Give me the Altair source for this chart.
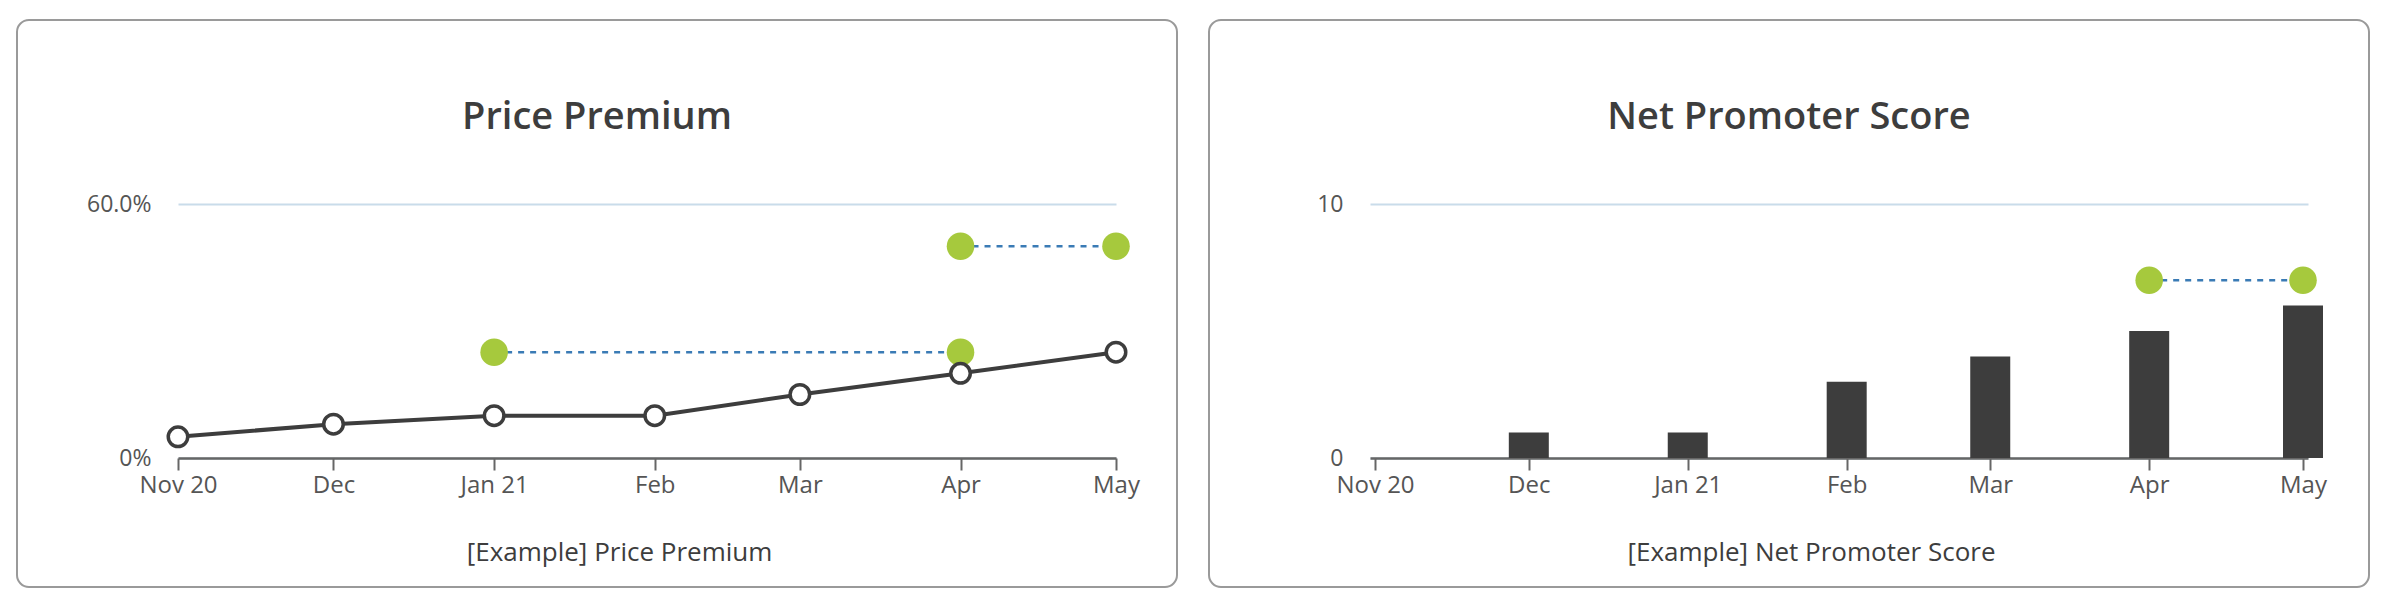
import altair as alt
import pandas as pd

# ---- data ----
months = ["2020-11-01", "2020-12-01", "2021-01-01", "2021-02-01",
          "2021-03-01", "2021-04-01", "2021-05-01"]
price_premium = [0.05, 0.08, 0.10, 0.10, 0.15, 0.20, 0.25]
nps = [0, 1, 1, 3, 4, 5, 6]

pp_target_dates = ["2021-01-01", "2021-04-01", "2021-04-01", "2021-05-01"]
pp_target_vals = [0.25, 0.25, 0.50, 0.50]
pp_target_grp = ["a", "a", "b", "b"]

nps_target_dates = ["2021-04-01", "2021-05-01"]
nps_target_vals = [7, 7]
nps_target_grp = ["a", "a"]

titles = ["Price Premium", "Net Promoter Score"]
captions = ["[Example] Price Premium", "[Example] Net Promoter Score"]

tick_ms = [int(v) for v in (pd.to_datetime(months).astype("int64") // 10**6)]

FONT = "Open Sans"
W, H = 938, 254
DARK = "#3d3d3d"
GREEN = "#a6c93d"
BLUE = "#3a7bb5"

pp_df = pd.DataFrame({"date": months, "value": price_premium})
pp_t_df = pd.DataFrame({"date": pp_target_dates, "value": pp_target_vals, "grp": pp_target_grp})
nps_df = pd.DataFrame({"date": months, "value": nps})
nps_t_df = pd.DataFrame({"date": nps_target_dates, "value": nps_target_vals, "grp": nps_target_grp})

x_label_expr = ("(utcmonth(datum.value) == 0 || utcmonth(datum.value) == 10) ? "
                "utcFormat(datum.value, '%b %y') : utcFormat(datum.value, '%b')")


def x_enc(caption):
    return alt.X(
        "date:T",
        scale=alt.Scale(type="utc", domain=[tick_ms[0], tick_ms[-1]], nice=False),
        axis=alt.Axis(
            values=tick_ms, labelExpr=x_label_expr, title=caption,
            grid=False, domainColor="#666666", domainWidth=2.5,
            tickColor="#666666", tickWidth=2, tickSize=12,
            labelFontSize=24, labelColor="#555555", labelPadding=3,
            labelFlush=False, labelOverlap=False,
            labelFont=FONT, titleFont=FONT, titleFontSize=26,
            titleFontWeight="normal", titleColor=DARK, titlePadding=42,
            titleX=441, titleAlign="center", titleAnchor="start",
        ),
    )


def frame():
    return alt.Chart(alt.Data(values=[{"k": 1}])).mark_rect(
        fill="transparent", stroke="#9a9a9a", strokeWidth=2, cornerRadius=12
    ).encode(
        x=alt.value(-161), x2=alt.value(W + 61),
        y=alt.value(-184), y2=alt.value(H + 129),
    )


def title_text(t):
    return alt.Chart(alt.Data(values=[{"t": t}])).mark_text(
        font=FONT, fontSize=38, fontWeight=600, color=DARK,
        align="center", baseline="alphabetic"
    ).encode(x=alt.value(W / 2 - 50), y=alt.value(-75), text="t:N")


def y_axis(values, label_expr=None):
    kw = dict(values=values, title=None, domain=False, ticks=False, grid=True,
              gridColor="#c9dcea", gridWidth=2,
              labelFontSize=23, labelColor="#555555", labelPadding=27,
              labelFont=FONT)
    if label_expr:
        kw["labelExpr"] = label_expr
    return alt.Axis(**kw)


# ---- Price Premium panel ----
pp_y = alt.Y("value:Q", scale=alt.Scale(domain=[0, 0.6], nice=False),
             axis=y_axis([0, 0.6], "datum.value == 0 ? '0%' : format(datum.value, '.1%')"))

pp_base = alt.Chart(pp_df).encode(x=x_enc(captions[0]), y=pp_y)
pp_target = alt.Chart(pp_t_df).encode(
    x=alt.X("date:T"), y=alt.Y("value:Q"), detail="grp:N")
left = alt.layer(
    frame(),
    title_text(titles[0]),
    pp_target.mark_line(color=BLUE, strokeWidth=2.5, strokeDash=[6, 6]),
    pp_target.mark_point(filled=True, color=GREEN, size=760, opacity=1),
    pp_base.mark_line(color=DARK, strokeWidth=4),
    pp_base.mark_point(filled=True, fill="white", stroke=DARK, strokeWidth=3.5,
                       size=380, opacity=1),
).properties(width=W, height=H)

# ---- Net Promoter Score panel ----
nps_y = alt.Y("value:Q", scale=alt.Scale(domain=[0, 10], nice=False),
              axis=y_axis([0, 10]))
nps_base = alt.Chart(nps_df).encode(x=x_enc(captions[1]), y=nps_y)
nps_target = alt.Chart(nps_t_df).encode(
    x=alt.X("date:T"), y=alt.Y("value:Q"), detail="grp:N")
right = alt.layer(
    frame(),
    title_text(titles[1]),
    nps_base.mark_bar(size=40, color=DARK),
    nps_target.mark_line(color=BLUE, strokeWidth=2.5, strokeDash=[6, 6]),
    nps_target.mark_point(filled=True, color=GREEN, size=760, opacity=1),
).properties(width=W, height=H)

chart = alt.hconcat(left, right, spacing=30).properties(
    padding={"left": 16, "top": 19, "right": 0, "bottom": 0},
    background="white",
).configure(font=FONT).configure_view(
    stroke="transparent", strokeWidth=0
)

chart.save("out.html", embed_options={"renderer": "svg", "actions": False})
